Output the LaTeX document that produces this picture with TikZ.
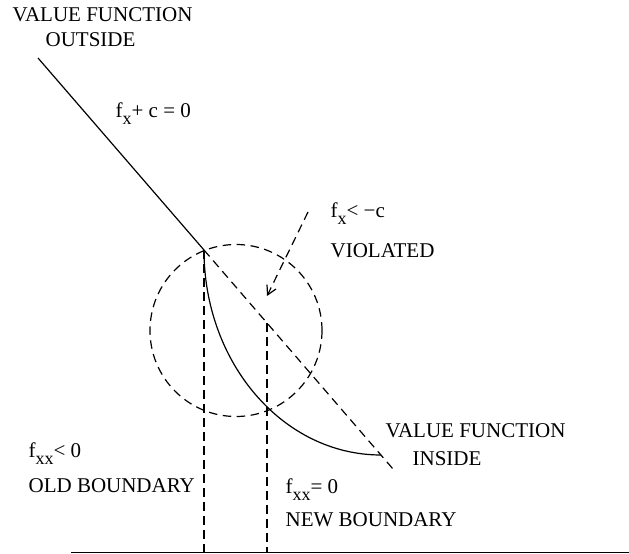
\documentclass[tikz,border=0pt]{standalone}
\usepackage{fontspec}
\setmainfont{Liberation Serif}
\usetikzlibrary{arrows.meta}
\newcommand{\sbx}[1]{\raisebox{-7pt}{\fontsize{18}{18}\selectfont #1}}
\begin{document}
\begin{tikzpicture}[x=1pt,y=-1pt, line width=1.2pt,
  lbl/.style={anchor=base west, inner sep=0pt, font=\fontsize{21}{25}\selectfont},
  dsh/.style={dash pattern=on 8.5pt off 5.5pt}]
\useasboundingbox (0,0) rectangle (629,554);
\coordinate (top) at (38,58);
\coordinate (kink) at (204,250);
\coordinate (dend) at (393,469);
\coordinate (cend) at (381,455);
\coordinate (cen) at (236,330.5);
\coordinate (newtop) at (267,323);
\coordinate (oldbot) at (204,552.5);
\coordinate (newbot) at (267,552.5);
\coordinate (axl) at (71,552.5);
\coordinate (axr) at (629,552.5);
\coordinate (arS) at (308,212);
\coordinate (arE) at (267,296);
\draw (top) -- (kink);
\draw[dsh] (kink) -- (dend);
\draw[dsh] (cen) circle (86pt);
\draw (kink) .. controls (204,363) and (283,455) .. (cend);
\draw[dsh] (kink) -- (oldbot);
\draw[dsh] (newtop) -- (newbot);
\draw (axl) -- (axr);
\draw[dsh, -{Straight Barb[length=9pt,width=10pt]}] (arS) -- (arE);
\node[lbl] (vf1) at (12,21) {VALUE FUNCTION};
\node[lbl] (out) at (45,46) {OUTSIDE};
\node[lbl] (fxc) at (115,117) {f\sbx{x}+ c = 0};
\node[lbl] (fxv) at (330,217) {f\sbx{x}< −c};
\node[lbl] (viol) at (330,257) {VIOLATED};
\node[lbl] (vf2) at (385,437) {VALUE FUNCTION};
\node[lbl] (ins) at (412,465) {INSIDE};
\node[lbl] (fxx1) at (28,457) {f\sbx{xx}< 0};
\node[lbl] (old) at (28,492) {OLD BOUNDARY};
\node[lbl] (fxx2) at (285,493) {f\sbx{xx}= 0};
\node[lbl] (new) at (285,526) {NEW BOUNDARY};
\end{tikzpicture}
\end{document}
